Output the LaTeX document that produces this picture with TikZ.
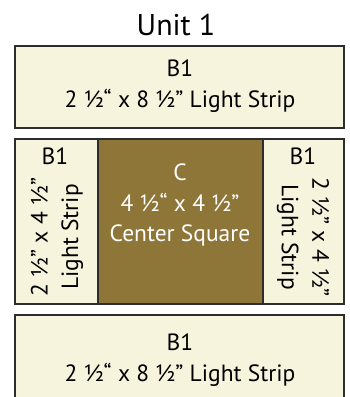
\documentclass[tikz,border=0pt]{standalone}
\usepackage{fontspec}
\setmainfont{PT Sans}
\usepackage{tikz}
\definecolor{lightfabric}{RGB}{247,244,222}
\definecolor{centerfabric}{RGB}{142,117,56}
\definecolor{seam}{RGB}{45,45,45}

\begin{document}
\begin{tikzpicture}[x=1pt,y=-1pt,
    strip/.style={draw=seam, line width=1.2pt, fill=lightfabric},
    square/.style={draw=seam, line width=1.2pt, fill=centerfabric},
    piecelabel/.style={font=\fontsize{23.5}{30.5}\selectfont, align=center, inner sep=0pt},
    unittitle/.style={font=\fontsize{30}{34}\selectfont, inner sep=0pt}]
    \useasboundingbox (0,0) rectangle (349,397);

    % Unit title
    \node[unittitle] (unit) at (176,25) {Unit 1};

    % Top light strip
    \draw[strip] (15,46) rectangle (344,128);
    \node[piecelabel] (topstrip) at (180,86) {B1\\2 ½“ x 8 ½” Light Strip};

    % Middle row: left strip, center square, right strip
    \draw[strip] (15,139) rectangle (98,304);
    \draw[square] (98,139) rectangle (263,304);
    \draw[strip] (263,139) rectangle (344,304);

    \node[piecelabel] (leftname) at (55,156) {B1};
    \node[piecelabel, rotate=90] (leftstrip) at (57,237) {2 ½” x 4 ½”\\Light Strip};

    \node[piecelabel, text=white] (centersquare) at (180,205) {C\\4 ½“ x 4 ½”\\Center Square};

    \node[piecelabel] (rightname) at (303,156) {B1};
    \node[piecelabel, rotate=-90] (rightstrip) at (303,237) {2 ½” x 4 ½”\\Light Strip};

    % Bottom light strip (runs off the page)
    \draw[strip] (15,315) rectangle (344,420);
    \node[piecelabel] (bottomstrip) at (180,360) {B1\\2 ½“ x 8 ½” Light Strip};
\end{tikzpicture}
\end{document}
